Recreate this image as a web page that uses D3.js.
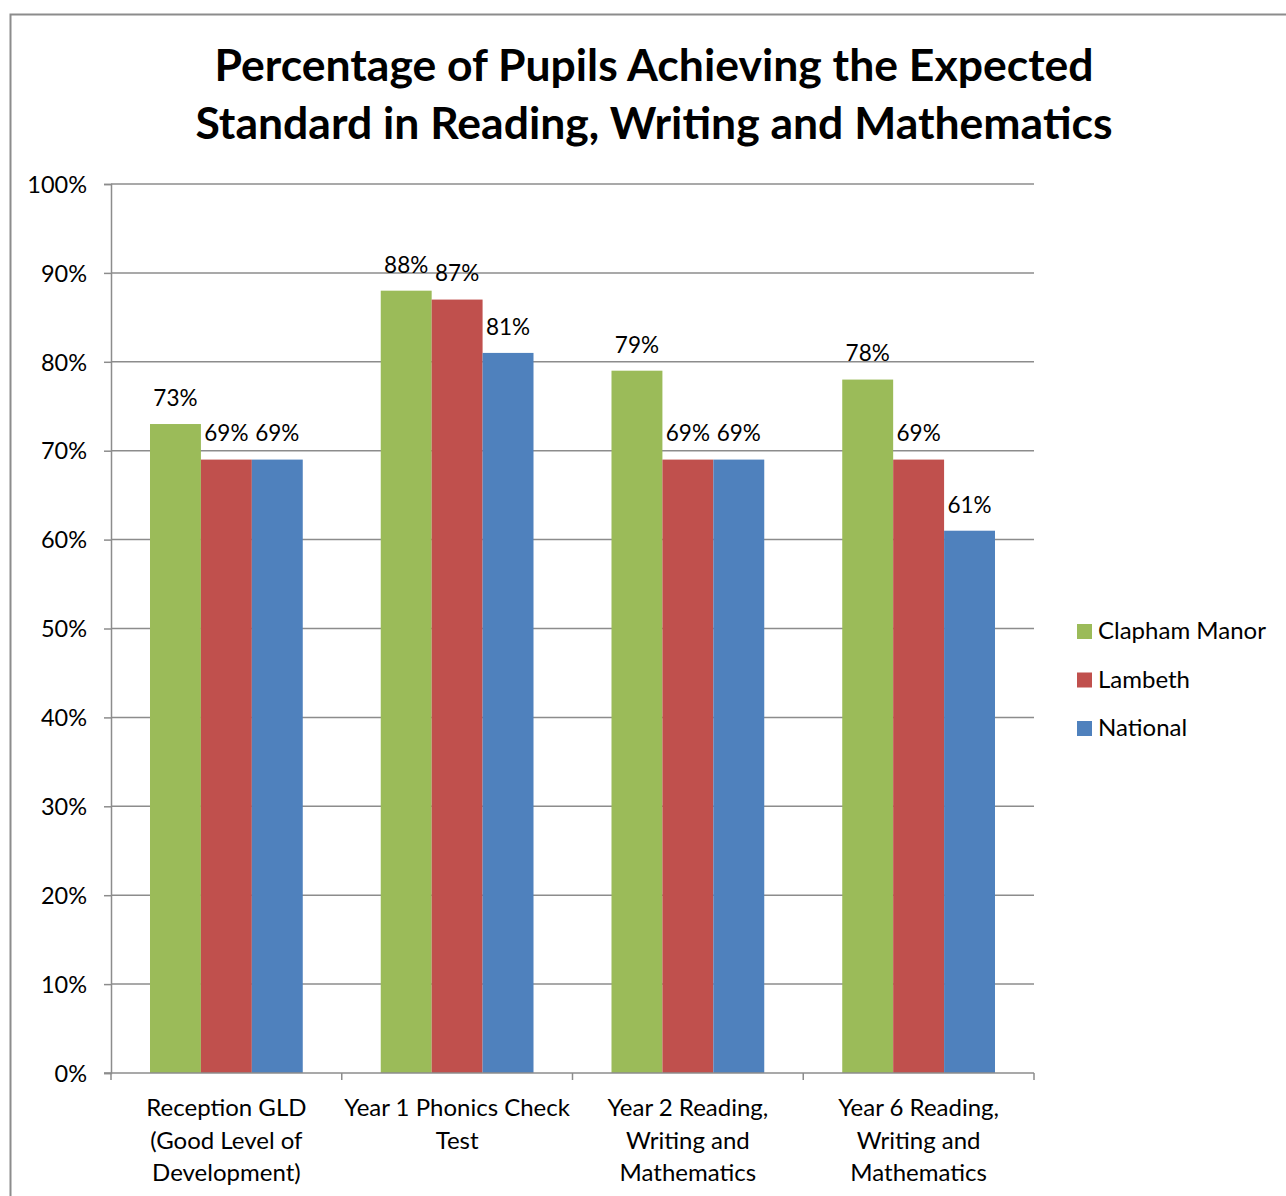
<!DOCTYPE html>
<html>
<head>
<meta charset="utf-8">
<script src="https://cdn.jsdelivr.net/npm/d3@7"></script>
<style>
  body { margin: 0; background: #fff; }
  text { font-family: Lato, "Open Sans", sans-serif; fill: #000; }
</style>
</head>
<body>
<div id="chart"></div>
<script>
// data
const categories = [
  ["Reception GLD", "(Good Level of", "Development)"],
  ["Year 1 Phonics Check", "Test"],
  ["Year 2 Reading,", "Writing and", "Mathematics"],
  ["Year 6 Reading,", "Writing and", "Mathematics"]
];
const seriesNames = ["Clapham Manor", "Lambeth", "National"];
const claphamManor = [73, 88, 79, 78];
const lambeth = [69, 87, 69, 69];
const national = [69, 81, 69, 61];
const yTicks = [0, 10, 20, 30, 40, 50, 60, 70, 80, 90, 100];
const colors = ["#9BBB59", "#C0504D", "#4F81BD"];

const seriesValues = [claphamManor, lambeth, national];

const W = 1286, H = 1196;
const margin = {top: 184, right: 252, bottom: 123, left: 111};
const plotW = W - margin.left - margin.right,
      plotH = H - margin.top - margin.bottom;

const svg = d3.select("#chart").append("svg")
  .attr("width", W)
  .attr("height", H);

// outer border
svg.append("rect")
  .attr("x", 10.5).attr("y", 14.5)
  .attr("width", W + 20).attr("height", H + 20)
  .attr("fill", "none")
  .attr("stroke", "#8c8c8c")
  .attr("stroke-width", 2);

// title
const title = svg.append("text")
  .attr("x", 654)
  .attr("text-anchor", "middle")
  .style("font-weight", "bold")
  .style("font-size", "44.5px");
title.append("tspan").attr("x", 654).attr("y", 81).text("Percentage of Pupils Achieving the Expected");
title.append("tspan").attr("x", 654).attr("y", 139).text("Standard in Reading, Writing and Mathematics");

const g = svg.append("g")
  .attr("transform", `translate(${margin.left},${margin.top})`);

const x0 = d3.scaleBand()
  .domain(d3.range(categories.length))
  .range([0, plotW])
  .paddingInner(0.338)
  .paddingOuter(0.169);
// each group fills the whole band step; bars occupy the middle 153px
const groupStep = plotW / categories.length;
const x1 = d3.scaleBand()
  .domain(d3.range(seriesNames.length))
  .range([0, x0.bandwidth()]);

const y = d3.scaleLinear().domain([0, 100]).range([plotH, 0]);

// gridlines
g.selectAll(".grid")
  .data(yTicks.filter(t => t > 0))
  .enter().append("line")
  .attr("x1", 0).attr("x2", plotW)
  .attr("y1", d => y(d)).attr("y2", d => y(d))
  .attr("stroke", "#8c8c8c")
  .attr("stroke-width", 1.5);

// y axis
const yAxis = g.append("g")
  .call(d3.axisLeft(y).tickValues(yTicks).tickSize(7).tickFormat(d => d + "%"));
yAxis.select(".domain").attr("stroke", "#8c8c8c").attr("stroke-width", 1.5);
yAxis.selectAll(".tick line").attr("stroke", "#8c8c8c").attr("stroke-width", 1.5);
yAxis.selectAll(".tick text")
  .attr("x", -24)
  .attr("dy", "0.35em")
  .style("font-size", "23.5px")
  .style("font-family", "Lato, 'Open Sans', sans-serif");

// bars
const groups = g.selectAll(".group")
  .data(categories.map((c, i) => i))
  .enter().append("g")
  .attr("transform", i => `translate(${x0(i)},0)`);

groups.selectAll("rect")
  .data(i => seriesValues.map((s, k) => ({k: k, v: s[i]})))
  .enter().append("rect")
  .attr("x", d => x1(d.k))
  .attr("y", d => y(d.v))
  .attr("width", x1.bandwidth())
  .attr("height", d => plotH - y(d.v))
  .attr("fill", d => colors[d.k]);

groups.selectAll(".lbl")
  .data(i => seriesValues.map((s, k) => ({k: k, v: s[i]})))
  .enter().append("text")
  .attr("class", "lbl")
  .attr("x", d => x1(d.k) + x1.bandwidth() / 2)
  .attr("y", d => y(d.v) - 26)
  .attr("dy", "0.35em")
  .attr("text-anchor", "middle")
  .style("font-size", "22.5px")
  .text(d => d.v + "%");

// x axis
const xAxis = g.append("g").attr("transform", `translate(0,${plotH})`);
xAxis.append("line")
  .attr("x1", -7).attr("x2", plotW)
  .attr("stroke", "#8c8c8c").attr("stroke-width", 1.5);
xAxis.selectAll(".xtick")
  .data(d3.range(categories.length + 1))
  .enter().append("line")
  .attr("x1", i => i * groupStep).attr("x2", i => i * groupStep)
  .attr("y1", 0).attr("y2", 7)
  .attr("stroke", "#8c8c8c").attr("stroke-width", 1.5);

xAxis.selectAll(".xlbl")
  .data(categories)
  .enter().append("text")
  .attr("text-anchor", "middle")
  .style("font-size", "24px")
  .each(function(lines, i) {
    const t = d3.select(this);
    lines.forEach((ln, j) => {
      t.append("tspan")
        .attr("x", x0(i) + x0.bandwidth() / 2)
        .attr("y", 43 + j * 32.5)
        .text(ln);
    });
  });

// legend
const legend = svg.append("g")
  .attr("transform", "translate(1077,631)");
const li = legend.selectAll(".li")
  .data(seriesNames)
  .enter().append("g")
  .attr("transform", (d, i) => `translate(0,${i * 48.5})`);
li.append("rect")
  .attr("x", 0).attr("y", -7)
  .attr("width", 15).attr("height", 15)
  .attr("fill", (d, i) => colors[i]);
li.append("text")
  .attr("x", 21)
  .attr("dy", "0.35em")
  .style("font-size", "24px")
  .text(d => d);
</script>
</body>
</html>
